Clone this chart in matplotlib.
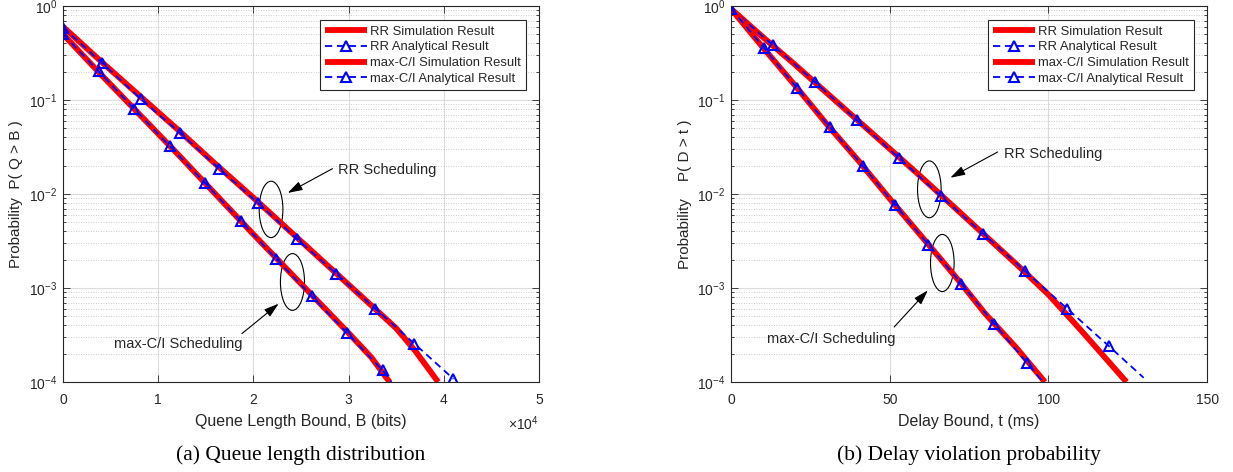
import matplotlib
matplotlib.use("Agg")
import matplotlib.pyplot as plt
from matplotlib.patches import Ellipse
from matplotlib import ticker

# ---------------- data ----------------
# (a) queue length distribution
qa_rr_sim_x = [0, 4000, 8000, 12000, 16000, 20000, 24000, 28000, 32000, 35000, 37000, 39400]
qa_rr_sim_y = [0.603, 0.257, 0.112, 0.049, 0.0209, 0.00912, 0.00389, 0.00166, 0.000708, 0.000372, 0.000214, 0.0001]
qa_rr_ana_x = [0, 4100, 8200, 12300, 16400, 20500, 24600, 28700, 32800, 36900, 41000]
qa_rr_ana_y = [0.59, 0.248, 0.102, 0.0446, 0.0186, 0.0080, 0.0033, 0.00142, 0.000603, 0.000256, 0.000108]
qa_mc_sim_x = [0, 4000, 8000, 12000, 16000, 20000, 24000, 28000, 30000, 32400, 34300]
qa_mc_sim_y = [0.501, 0.186, 0.0708, 0.0269, 0.0100, 0.00372, 0.00141, 0.000537, 0.000331, 0.000182, 0.0001]
qa_mc_ana_x = [0, 3730, 7460, 11190, 14920, 18650, 22380, 26110, 29840, 33570, 34500]
qa_mc_ana_y = [0.50, 0.202, 0.0809, 0.0324, 0.0131, 0.00516, 0.00205, 0.00082, 0.000332, 0.000133, 0.0001]

# (b) delay violation probability
db_rr_sim_x = [0, 10, 20, 30, 40, 50, 60, 70, 80, 90, 100, 110, 124.6]
db_rr_sim_y = [0.933, 0.468, 0.240, 0.120, 0.0603, 0.0302, 0.0151, 0.00741, 0.00363, 0.00178, 0.000851, 0.000363, 0.0001]
db_rr_ana_x = [0, 13.2, 26.5, 39.7, 52.9, 66.2, 79.4, 92.6, 105.9, 119.1, 130]
db_rr_ana_y = [0.94, 0.382, 0.155, 0.0608, 0.0242, 0.00944, 0.00378, 0.00152, 0.000603, 0.000240, 0.000111]
db_mc_sim_x = [0, 10, 20, 30, 40, 50, 60, 65, 72, 80, 90, 98.9]
db_mc_sim_y = [0.933, 0.363, 0.145, 0.0562, 0.0229, 0.00891, 0.00355, 0.00224, 0.00117, 0.000537, 0.000229, 0.0001]
db_mc_ana_x = [0, 10.4, 20.7, 31.1, 41.5, 51.8, 62.2, 72.6, 82.9, 93.3, 98.3]
db_mc_ana_y = [0.94, 0.357, 0.135, 0.0516, 0.0199, 0.00757, 0.00289, 0.00111, 0.000418, 0.000159, 0.0001]

legend_labels = ["RR Simulation Result", "RR Analytical Result",
                 "max-C/I Simulation Result", "max-C/I Analytical Result"]
xticks_a = [0, 10000, 20000, 30000, 40000, 50000]
xticks_b = [0, 50, 100, 150]

# ---------------- style ----------------
plt.rcParams['font.family'] = ['Liberation Sans', 'DejaVu Sans']
plt.rcParams['mathtext.fontset'] = 'custom'
plt.rcParams['mathtext.rm'] = 'Liberation Sans'
plt.rcParams['mathtext.it'] = 'Liberation Sans:italic'
plt.rcParams['axes.unicode_minus'] = False
TXT = '#262626'

fig = plt.figure(figsize=(12.33, 4.72), dpi=100)
axa = fig.add_axes([0.0511, 0.1907, 0.3861, 0.7966])
axb = fig.add_axes([0.5929, 0.1907, 0.3861, 0.7966])

RED = (1, 0, 0)
BLUE = (0, 0, 1)


def draw(ax, rs_x, rs_y, ra_x, ra_y, ms_x, ms_y, ma_x, ma_y, rr_mark, mc_mark):
    sim_kw = dict(color=RED, lw=4.2, solid_capstyle='butt', solid_joinstyle='round')
    ana_kw = dict(color=BLUE, lw=1.3, linestyle=(0, (4, 2.6)), marker='^',
                  markersize=7.5, fillstyle='none', markeredgewidth=1.5)
    h1, = ax.plot(rs_x, rs_y, **sim_kw)
    h2, = ax.plot(ra_x, ra_y, markevery=rr_mark, **ana_kw)
    h3, = ax.plot(ms_x, ms_y, **sim_kw)
    h4, = ax.plot(ma_x, ma_y, markevery=mc_mark, **ana_kw)
    ax.set_yscale('log')
    ax.set_ylim(1e-4, 1)
    ax.yaxis.set_major_locator(ticker.LogLocator(base=10, numticks=10))
    ax.yaxis.set_minor_locator(ticker.LogLocator(base=10, subs=range(2, 10), numticks=10))
    ax.yaxis.set_minor_formatter(ticker.NullFormatter())
    ax.grid(True, which='major', color='#dcdcdc', lw=0.8, ls='-')
    ax.grid(True, which='minor', axis='y', color='#b8b8b8', lw=0.6, ls=(0, (1, 2)))
    ax.set_axisbelow(True)
    ax.tick_params(which='both', direction='in', top=True, right=True,
                   colors=TXT, labelsize=10, width=0.6)
    ax.tick_params(which='major', length=5)
    ax.tick_params(which='minor', length=2.5)
    ax.tick_params(axis='x', pad=8)
    ax.tick_params(axis='y', pad=4)
    for s in ax.spines.values():
        s.set_color(TXT)
        s.set_linewidth(0.8)
    leg = ax.legend([h1, h2, h3, h4], legend_labels, loc='upper right',
                    bbox_to_anchor=(0.972, 0.962), borderaxespad=0,
                    fancybox=False, framealpha=1, edgecolor='#262626',
                    fontsize=9.4, handlelength=3.2, labelspacing=0.28,
                    handletextpad=0.25, borderpad=0.4, numpoints=1)
    leg.get_frame().set_linewidth(0.8)
    for t in leg.get_texts():
        t.set_color(TXT)


draw(axa, qa_rr_sim_x, qa_rr_sim_y, qa_rr_ana_x, qa_rr_ana_y,
     qa_mc_sim_x, qa_mc_sim_y, qa_mc_ana_x, qa_mc_ana_y,
     list(range(len(qa_rr_ana_x))), list(range(len(qa_mc_ana_x) - 1)))
draw(axb, db_rr_sim_x, db_rr_sim_y, db_rr_ana_x, db_rr_ana_y,
     db_mc_sim_x, db_mc_sim_y, db_mc_ana_x, db_mc_ana_y,
     list(range(len(db_rr_ana_x) - 1)), list(range(len(db_mc_ana_x) - 1)))

axa.set_xlim(0, 50000)
axa.set_xticks(xticks_a)
axa.xaxis.set_major_formatter(ticker.FuncFormatter(lambda v, p: f"{v/1e4:g}"))
axa.text(1.0, -0.11, r'$\times\mathdefault{10^{4}}$', transform=axa.transAxes,
         ha='right', va='center', fontsize=10, color=TXT)
axb.set_xlim(0, 150)
axb.set_xticks(xticks_b)

axa.set_xlabel('Quene Length Bound, B (bits)', fontsize=11.5, color=TXT, labelpad=5)
axb.set_xlabel('Delay Bound, t (ms)', fontsize=11.5, color=TXT, labelpad=5)
axa.set_ylabel('Probability  P( Q > B )', fontsize=11, color=TXT)
axb.set_ylabel('Probability    P( D > t )', fontsize=11, color=TXT)
axa.yaxis.set_label_coords(-0.083, 0.5)
axb.yaxis.set_label_coords(-0.083, 0.5)

# ---------------- annotations ----------------
arrow_kw = dict(arrowstyle='-|>,head_length=0.9,head_width=0.28', color='k',
                lw=0.8, mutation_scale=10, shrinkA=0, shrinkB=0)
ann_fs = 10.5

# (a)
axa.text(28900, 0.0179, 'RR Scheduling', ha='left', va='center', fontsize=ann_fs, color=TXT)
axa.annotate('', xy=(23600, 0.01026), xytext=(28300, 0.0186), arrowprops=arrow_kw)
axa.text(5400, 2.56e-4, 'max-C/I Scheduling', ha='left', va='center', fontsize=ann_fs, color=TXT)
axa.annotate('', xy=(22650, 6.81e-4), xytext=(18790, 3.27e-4), arrowprops=arrow_kw)
axa.add_patch(Ellipse((0.437, 0.459), 0.0498, 0.150, transform=axa.transAxes,
                      fill=False, ec='k', lw=0.8))
axa.add_patch(Ellipse((0.482, 0.266), 0.0506, 0.151, transform=axa.transAxes,
                      fill=False, ec='k', lw=0.8))

# (b)
axb.text(85.9, 0.0269, 'RR Scheduling', ha='left', va='center', fontsize=ann_fs, color=TXT)
axb.annotate('', xy=(69.1, 0.0149), xytext=(84.0, 0.028), arrowprops=arrow_kw)
axb.text(11.2, 2.89e-4, 'max-C/I Scheduling', ha='left', va='center', fontsize=ann_fs, color=TXT)
axb.annotate('', xy=(62.0, 9.44e-4), xytext=(51.4, 3.85e-4), arrowprops=arrow_kw)
axb.add_patch(Ellipse((0.4165, 0.5124), 0.0496, 0.151, transform=axb.transAxes,
                      fill=False, ec='k', lw=0.8))
axb.add_patch(Ellipse((0.4438, 0.3165), 0.0496, 0.152, transform=axb.transAxes,
                      fill=False, ec='k', lw=0.8))

# ---------------- captions ----------------
cap_kw = dict(ha='center', va='center', fontsize=15.5, family='Liberation Serif', color='k')
fig.text(0.0511 + 0.3861 / 2, 1 - 455 / 472, '(a) Queue length distribution', **cap_kw)
fig.text(0.5929 + 0.3861 / 2, 1 - 455 / 472, '(b) Delay violation probability', **cap_kw)

fig.savefig('out.png', dpi=100)
